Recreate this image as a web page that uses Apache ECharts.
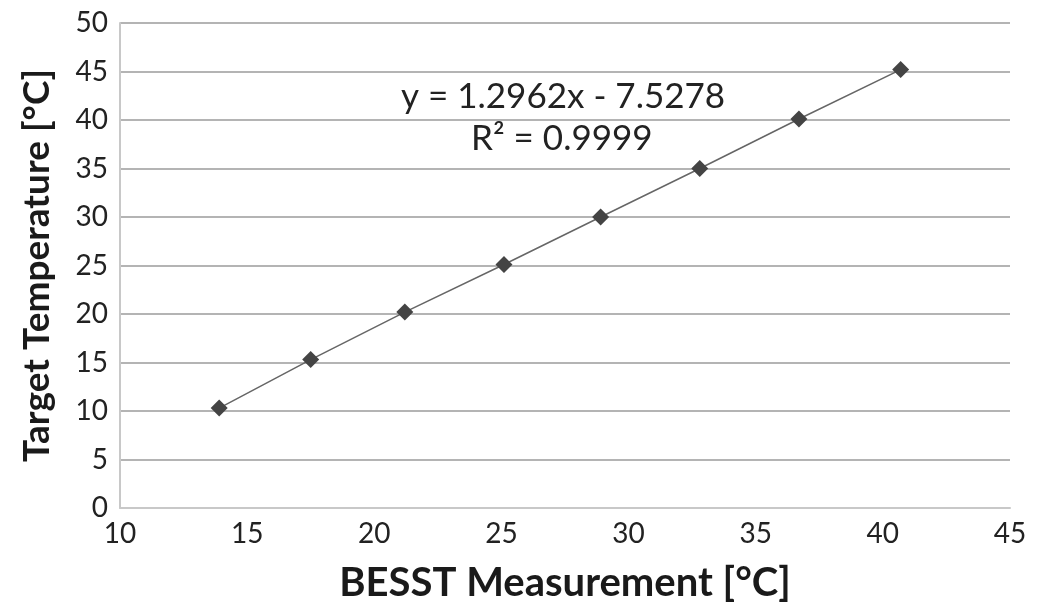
<!DOCTYPE html>
<html>
<head>
<meta charset="utf-8">
<script src="https://cdn.jsdelivr.net/npm/echarts@6/dist/echarts.min.js"></script>
<style>
  html, body { margin: 0; padding: 0; background: #fff; }
  #chart { width: 1044px; height: 607px; }
</style>
</head>
<body>
<div id="chart"></div>
<script>
const besstValues = [13.9, 17.5, 21.2, 25.1, 28.9, 32.8, 36.7, 40.7];
const targetValues = [10.3, 15.3, 20.2, 25.1, 30.0, 35.0, 40.1, 45.2];
const fitLabel = 'y = 1.2962x - 7.5278';
const r2Label = 'R\u00b2 = 0.9999';

const points = besstValues.map((x, i) => [x, targetValues[i]]);
const font = 'Lato, "Open Sans", sans-serif';

const chart = echarts.init(document.getElementById('chart'));
chart.setOption({
    animation: false,
    grid: { left: 120, right: 34, top: 23, bottom: 99, outerBoundsMode: 'none' },
    xAxis: {
        type: 'value', min: 10, max: 45, interval: 5,
        name: 'BESST Measurement [°C]',
        nameLocation: 'middle', nameGap: 55,
        nameTextStyle: { fontFamily: font, fontSize: 40, fontWeight: 'bold', color: '#1a1a1a' },
        axisLine: { show: true, lineStyle: { color: '#c8c8c8', width: 2 } },
        axisTick: { show: false },
        axisLabel: { fontFamily: font, fontSize: 28, color: '#222', margin: 12 },
        splitLine: { show: false }
    },
    yAxis: {
        type: 'value', min: 0, max: 50, interval: 5,
        name: 'Target Temperature [°C]',
        nameLocation: 'middle', nameGap: 64,
        nameTextStyle: { fontFamily: font, fontSize: 37, fontWeight: 'bold', color: '#1a1a1a' },
        axisLine: { show: true, lineStyle: { color: '#c8c8c8', width: 2 } },
        axisTick: { show: false },
        axisLabel: { fontFamily: font, fontSize: 28, color: '#222', margin: 12 },
        splitLine: { show: true, lineStyle: { color: '#b4b4b4', width: 2 } }
    },
    series: [{
        type: 'line',
        data: points,
        symbol: 'diamond',
        symbolSize: 17,
        itemStyle: { color: '#444' },
        lineStyle: { color: '#666', width: 1.5 }
    }],
    graphic: [
        { type: 'text', left: 401, top: 79,
          style: { text: fitLabel, font: '35px ' + font, fill: '#222' } },
        { type: 'text', left: 471, top: 121,
          style: { text: r2Label, font: '35px ' + font, fill: '#222' } }
    ]
});
</script>
</body>
</html>
